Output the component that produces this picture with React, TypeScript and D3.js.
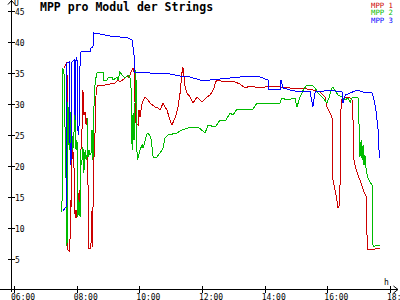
import React from "react";
import * as d3 from "d3";

// [hour of day, value in V]
const mpp1: [number, number][] = [
  [7.6, 35.81], [7.69, 36.77], [7.72, 6.45], [7.76, 6.29], [7.79, 8.39], [7.79, 14.52], [7.82, 13.39],
  [7.85, 20.97], [7.88, 22.58], [7.92, 19.35], [7.95, 11.61], [7.98, 12.9], [8.01, 11.61], [8.04, 16.13],
  [8.07, 12.1], [8.11, 16.45], [8.14, 23.06], [8.17, 25.81], [8.2, 32.26], [8.23, 28.23], [8.27, 28.71],
  [8.3, 26.61], [8.33, 27.74], [8.36, 17.74], [8.39, 6.77], [8.43, 6.77], [8.46, 7.58], [8.49, 12.9],
  [8.49, 6.94], [8.52, 12.9], [8.55, 20.97], [8.59, 25.81], [8.62, 31.94], [8.65, 32.74], [8.68, 33.06],
  [8.9, 33.06], [9.06, 33.23], [9.22, 33.39], [9.32, 33.87], [9.38, 33.55], [9.54, 34.19], [9.61, 34.52],
  [9.67, 34.19], [9.73, 35.16], [9.8, 35.81], [9.83, 35.16], [9.86, 30.65], [9.89, 26.94], [9.96, 26.61],
  [9.99, 29.03], [10.02, 27.9], [10.09, 30.16], [10.18, 31.13], [10.28, 30.65], [10.34, 30.16], [10.5, 29.52],
  [10.6, 29.35], [10.66, 29.03], [10.76, 30.16], [10.82, 29.52], [10.88, 29.03], [10.98, 27.42], [11.04, 26.61],
  [11.11, 27.42], [11.17, 28.23], [11.23, 29.35], [11.3, 31.77], [11.36, 35.0], [11.39, 35.97], [11.46, 32.74],
  [11.52, 31.77], [11.62, 31.13], [11.71, 30.16], [11.78, 30.65], [11.84, 31.13], [11.94, 30.65], [12.0, 30.32],
  [12.1, 30.81], [12.16, 31.13], [12.26, 31.45], [12.32, 31.94], [12.38, 32.58], [12.42, 33.39], [12.48, 33.87],
  [12.74, 33.55], [13.05, 33.55], [13.21, 33.23], [13.37, 32.58], [13.53, 32.9], [13.85, 32.58], [14.17, 32.9],
  [14.49, 32.74], [14.81, 32.58], [15.13, 32.58], [15.54, 32.26], [15.77, 31.94], [15.93, 31.13], [15.99, 29.52],
  [16.09, 28.55], [16.15, 27.74], [16.15, 18.55], [16.21, 16.94], [16.28, 15.32], [16.34, 13.23], [16.37, 13.23],
  [16.41, 17.42], [16.44, 30.65], [16.57, 30.97], [16.73, 30.97], [16.79, 30.65], [16.82, 27.42], [16.85, 20.97],
  [16.92, 19.35], [16.98, 18.55], [17.04, 17.74], [17.11, 16.77], [17.17, 15.81], [17.24, 15.16], [17.27, 8.06],
  [17.3, 6.45], [17.52, 6.61], [17.68, 6.77],
];

const mpp2: [number, number][] = [
  [7.53, 12.58], [7.56, 35.81], [7.6, 34.68], [7.63, 25.81], [7.66, 18.06], [7.66, 10.97], [7.69, 7.1],
  [7.72, 14.52], [7.72, 30.32], [7.76, 22.58], [7.79, 28.71], [7.82, 22.1], [7.85, 25.0], [7.88, 22.58],
  [7.92, 25.81], [7.95, 29.84], [7.98, 22.58], [8.01, 24.19], [8.04, 18.23], [8.04, 11.77], [8.07, 14.52],
  [8.11, 11.77], [8.11, 22.58], [8.14, 20.16], [8.17, 20.97], [8.2, 23.06], [8.23, 18.87], [8.27, 22.58],
  [8.3, 20.97], [8.33, 21.77], [8.36, 27.74], [8.36, 21.45], [8.39, 22.58], [8.43, 21.77], [8.46, 22.1],
  [8.49, 25.81], [8.52, 20.97], [8.55, 29.35], [8.59, 33.55], [8.62, 34.35], [8.65, 35.0], [8.68, 35.16],
  [8.84, 35.16], [8.87, 33.87], [8.97, 33.87], [9.0, 34.19], [9.13, 34.35], [9.16, 33.87], [9.29, 34.35],
  [9.32, 33.87], [9.38, 35.16], [9.45, 34.68], [9.54, 34.19], [9.64, 34.68], [9.7, 34.19], [9.73, 33.87],
  [9.77, 22.58], [9.8, 28.55], [9.83, 24.19], [9.89, 35.48], [9.93, 20.97], [9.96, 21.29], [10.02, 22.58],
  [10.09, 23.39], [10.12, 22.9], [10.25, 25.32], [10.28, 25.32], [10.37, 24.52], [10.44, 21.45], [10.56, 21.45],
  [10.66, 22.1], [10.76, 22.9], [10.82, 24.52], [10.92, 25.0], [11.2, 25.32], [11.36, 25.81], [11.55, 26.13],
  [11.87, 26.29], [12.1, 25.32], [12.19, 26.61], [12.42, 26.29], [12.58, 27.42], [12.74, 27.26], [12.9, 28.55],
  [12.99, 28.23], [13.12, 29.19], [13.6, 29.03], [13.76, 30.16], [14.49, 30.16], [14.55, 30.97], [14.71, 30.65],
  [14.97, 30.97], [15.03, 29.52], [15.13, 31.13], [15.23, 32.26], [15.35, 33.06], [15.51, 33.06], [15.61, 32.58],
  [15.7, 31.77], [15.86, 30.97], [15.99, 30.16], [16.05, 30.97], [16.15, 32.58], [16.18, 32.74], [16.34, 31.45],
  [16.47, 31.13], [16.57, 30.65], [16.66, 30.97], [16.73, 30.32], [16.79, 30.97], [16.89, 31.13], [16.98, 30.97],
  [17.01, 27.1], [17.04, 21.45], [17.08, 24.19], [17.11, 20.97], [17.14, 23.39], [17.17, 20.16], [17.2, 21.77],
  [17.24, 19.35], [17.27, 18.55], [17.3, 18.06], [17.36, 17.42], [17.43, 16.94], [17.43, 7.58], [17.49, 6.94],
  [17.55, 7.26], [17.62, 7.1], [17.68, 7.26],
];

const mpp3: [number, number][] = [
  [7.56, 12.74], [7.66, 13.39], [7.69, 16.13], [7.69, 36.61], [7.76, 36.77], [7.79, 22.58], [7.79, 20.16],
  [7.82, 20.97], [7.85, 36.77], [7.92, 37.1], [7.95, 27.42], [7.98, 37.42], [8.01, 37.42], [8.04, 25.81],
  [8.07, 25.0], [8.11, 37.1], [8.14, 38.39], [8.43, 38.39], [8.46, 39.03], [8.52, 39.19], [8.55, 41.45],
  [8.75, 41.29], [9.06, 40.97], [9.38, 40.81], [9.64, 40.65], [9.77, 40.32], [9.83, 37.9], [9.86, 35.16],
  [10.02, 35.16], [10.34, 35.0], [10.66, 34.84], [10.98, 34.84], [11.3, 34.52], [11.62, 34.35], [11.94, 33.87],
  [12.26, 33.87], [12.58, 34.03], [12.9, 34.19], [13.21, 34.35], [13.53, 34.52], [13.85, 34.35], [14.11, 33.87],
  [14.14, 32.26], [14.49, 32.26], [14.52, 33.87], [14.59, 32.58], [14.81, 32.26], [15.13, 31.94], [15.45, 31.94],
  [15.54, 29.52], [15.61, 31.94], [15.77, 31.94], [16.02, 32.26], [16.47, 31.94], [16.5, 30.16], [16.57, 31.45],
  [16.73, 31.77], [16.95, 32.26], [17.14, 31.94], [17.43, 31.77], [17.49, 30.65], [17.55, 29.03], [17.62, 25.81],
  [17.65, 22.58], [17.68, 21.29],
];

const seriesNames = ["MPP 1", "MPP 2", "MPP 3"];
const seriesColors = ["#cc0000", "#00bb00", "#0000ff"];
const yTicks = [5, 10, 15, 20, 25, 30, 35, 40, 45];
const xTicks = [6, 8, 10, 12, 14, 16, 18];
const xTickLabels = ["06:00", "08:00", "10:00", "12:00", "14:00", "16:00", "18:00"];
const title = "MPP pro Modul der Strings";

const W = 400;
const H = 300;
const FONT = "'DejaVu Sans Mono', monospace";

export default function App() {
  const x = d3.scaleLinear().domain([6, 18]).range([14, 390]);
  const y = d3.scaleLinear().domain([0, 45]).range([290, 11]);
  const line = d3
    .line<[number, number]>()
    .x((d) => x(d[0]))
    .y((d) => y(d[1]));
  const series = [mpp1, mpp2, mpp3];
  const axisY = 289.5;
  const axisX = 11.5;

  return (
    <svg
      width={W}
      height={H}
      style={{ position: "absolute", left: 0, top: 0, background: "#fff" }}
      fontFamily={FONT}
    >
      <rect width={W} height={H} fill="#fff" />
      {/* axes */}
      <line x1={0} x2={398} y1={axisY} y2={axisY} stroke="#000" strokeWidth={1} shapeRendering="crispEdges" />
      <line x1={axisX} x2={axisX} y1={0} y2={292} stroke="#000" strokeWidth={1} shapeRendering="crispEdges" />
      <path d={`M${axisX - 3.5},4.5 L${axisX},0.5 L${axisX + 3.5},4.5`} fill="none" stroke="#000" strokeWidth={1} />
      <path d={`M393.5,${axisY - 3.5} L398,${axisY} L393.5,${axisY + 3.5}`} fill="none" stroke="#000" strokeWidth={1} />
      <text x={14} y={6} fontSize={8} fill="#000">U</text>
      <text x={384} y={285} fontSize={8} fill="#000">h</text>

      {yTicks.map((t) => (
        <g key={"y" + t}>
          <line x1={8} x2={15} y1={Math.round(y(t)) + 0.5} y2={Math.round(y(t)) + 0.5} stroke="#000" shapeRendering="crispEdges" />
          <text x={15} y={Math.round(y(t)) + 3.5} fontSize={8} fill="#000">{t}</text>
        </g>
      ))}
      {xTicks.map((t, i) => (
        <g key={"x" + t}>
          <line x1={Math.round(x(t)) + 0.5} x2={Math.round(x(t)) + 0.5} y1={286} y2={293} stroke="#000" shapeRendering="crispEdges" />
          <text x={x(t) - 3} y={299.5} fontSize={8} fill="#000">{xTickLabels[i]}</text>
        </g>
      ))}

      {series.map((s, i) => (
        <path
          key={seriesNames[i]}
          d={line(s) || ""}
          fill="none"
          stroke={seriesColors[i]}
          strokeWidth={1}
          shapeRendering="crispEdges"
        />
      ))}

      <text x={40} y={11} fontSize={11.5} fontWeight="bold" fill="#000">{title}</text>
      {seriesNames.map((n, i) => (
        <text key={n} x={371} y={7.5 + i * 7.5} fontSize={7.3} fill={seriesColors[i]}>{n}</text>
      ))}
    </svg>
  );
}
